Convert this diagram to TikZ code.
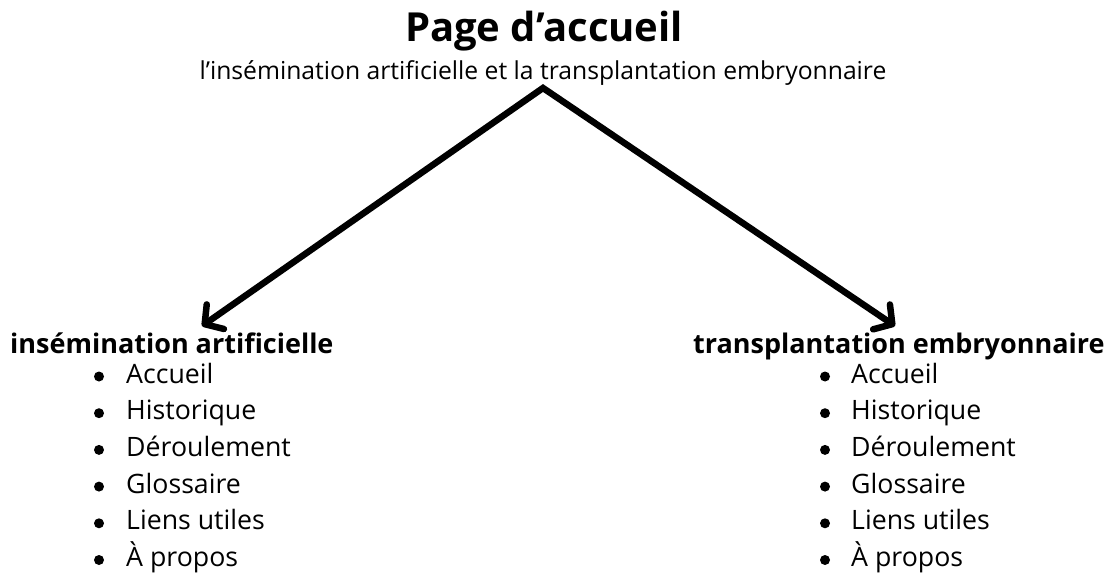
\documentclass[tikz,border=0pt]{standalone}
\usepackage{fontspec}
\setmainfont{Open Sans}
\usetikzlibrary{arrows.meta}
\begin{document}
\begin{tikzpicture}[x=1pt,y=-1pt,
  title/.style={font=\fontsize{40}{44}\selectfont\bfseries, anchor=base, inner sep=0pt},
  subtitle/.style={font=\fontsize{24.7}{28}\selectfont, anchor=base, inner sep=0pt},
  head/.style={font=\fontsize{27}{31}\selectfont\bfseries, anchor=base west, inner sep=0pt},
  item/.style={font=\fontsize{26.7}{31}\selectfont, anchor=base west, inner sep=0pt},
  bul/.style={circle, fill=black, minimum size=10pt, inner sep=0pt},
  conn/.style={line width=6.5pt, line join=miter, line cap=round,
    arrows={Straight Barb[length=13pt,width=30pt,line cap=round,line join=round]-Straight Barb[length=13pt,width=30pt,line cap=round,line join=round]}}
]
\useasboundingbox (0,0) rectangle (1112,575);
\node[title] (title) at (544,42) {Page d’accueil};
\node[subtitle] (sub) at (543,80) {l’insémination artificielle et la transplantation embryonnaire};
\coordinate (apex) at (543,88);
\coordinate (tipL) at (202,326);
\coordinate (tipR) at (895,326);
\draw[conn] (tipL) -- (apex) -- (tipR);
\node[head] (hl) at (10,353) {insémination artificielle};
\node[head] (hr) at (693,353) {transplantation embryonnaire};
\foreach \t [count=\i from 0] in {Accueil,Historique,Déroulement,Glossaire,Liens utiles,À propos}{
  \node[bul] (bl\i) at (99,376.5+36.7*\i) {};
  \node[item] (il\i) at (126,383+36.7*\i) {\t};
  \node[bul] (br\i) at (825,376.5+36.7*\i) {};
  \node[item] (ir\i) at (851,383+36.7*\i) {\t};
}
\end{tikzpicture}
\end{document}
